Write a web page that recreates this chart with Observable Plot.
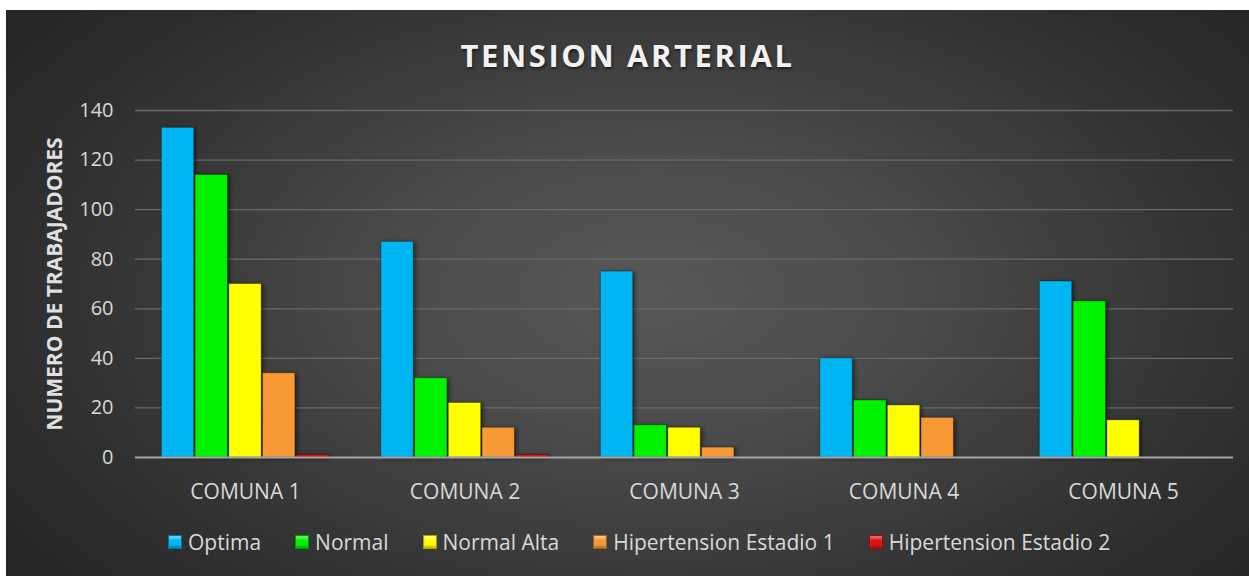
<!DOCTYPE html>
<html><head><meta charset="utf-8">
<script src="https://cdn.jsdelivr.net/npm/d3@7"></script>
<script src="https://cdn.jsdelivr.net/npm/@observablehq/plot@0.6"></script>
<style>
html,body{margin:0;padding:0;background:#fff;}
#chart{position:absolute;left:6px;top:10px;width:1243px;height:566px;overflow:hidden;
  background: radial-gradient(ellipse 62% 78% at 52% 50%, #585858 0%, #4a4a4a 35%, #353535 70%, #262626 100%);
  font-family:"Open Sans",sans-serif;}
#title{position:absolute;left:0;width:1243px;top:25px;text-align:center;color:#f2f2f2;font-weight:bold;font-size:31px;letter-spacing:2.6px;text-shadow:1px 2px 3px rgba(0,0,0,0.55);line-height:40px;}
#plot{position:absolute;left:0;top:0;}
#plot g[aria-label="y-axis label"] text{font-weight:bold;font-size:21px;fill:#e0e0e0;}
#plot g[aria-label="fx-axis tick label"]{font-size:21px;}
#plot g[aria-label="bar"]{filter:drop-shadow(2px 1px 2px rgba(0,0,0,0.55));}
#legend{position:absolute;left:162px;top:518px;display:flex;align-items:center;gap:34px;color:#d9d9d9;font-size:21px;line-height:28px;white-space:nowrap;}
.item{display:flex;align-items:center;gap:6px;}
.sw{width:12px;height:12px;border:1px solid rgba(0,0,0,0.35);box-shadow:inset 0 3px 2px rgba(255,255,255,0.35), inset 0 -2px 2px rgba(0,0,0,0.25);}
</style>
</head><body>
<div id="chart">
  <div id="title">TENSION ARTERIAL</div>
  <div id="plot"></div>
  <div id="legend"></div>
</div>
<script>
const comunas = ["COMUNA 1","COMUNA 2","COMUNA 3","COMUNA 4","COMUNA 5"];
const estados = ["Optima","Normal","Normal Alta","Hipertension Estadio 1","Hipertension Estadio 2"];
const optima = [133,87,75,40,71];
const normal = [114,32,13,23,63];
const normalAlta = [70,22,12,21,15];
const hipertension1 = [34,12,4,16,0];
const hipertension2 = [1,1,0,0,0];
const colores = ["#00B6F2","#00F200","#FFFF00","#F79A35","#E01010"];
const yTicks = [0,20,40,60,80,100,120,140];

const series = [optima, normal, normalAlta, hipertension1, hipertension2];
const rows = [];
comunas.forEach((c,i)=>estados.forEach((e,j)=>rows.push({comuna:c, estado:e, valor:series[j][i]})));

const plot = Plot.plot({
  width:1243, height:500,
  marginLeft:131, marginRight:18, marginTop:100, marginBottom:53,
  style:{background:"transparent", color:"#d9d9d9", fontFamily:"'Open Sans', sans-serif", fontSize:"20px", overflow:"visible"},
  fx:{domain:comunas, paddingInner:0.2256, paddingOuter:0.1048, round:false, axis:"bottom", label:null, tickSize:0, tickPadding:27},
  x:{domain:estados, axis:null, padding:0.04, round:false},
  y:{domain:[0,140], ticks:yTicks, tickSize:0, tickPadding:47, label:"NUMERO DE TRABAJADORES", labelAnchor:"center", labelOffset:113, labelArrow:"none"},
  color:{domain:estados, range:colores},
  marks:[
    Plot.ruleY(yTicks.filter(d=>d>0), {stroke:"#6a6a6a", strokeWidth:1.3, insetLeft:-25, insetRight:-25}),
    Plot.barY(rows, {fx:"comuna", x:"estado", y:"valor", fill:"estado", stroke:"rgba(0,0,0,0.3)", strokeWidth:1}),
    Plot.ruleY([0], {stroke:"#a6a6a6", strokeWidth:2, insetLeft:-25, insetRight:-25})
  ]
});
document.getElementById("plot").appendChild(plot);

const legend = document.getElementById("legend");
estados.forEach((e,j)=>{
  const it = document.createElement("div"); it.className="item";
  const sw = document.createElement("span"); sw.className="sw"; sw.style.background=colores[j];
  const tx = document.createElement("span"); tx.textContent=e;
  it.appendChild(sw); it.appendChild(tx); legend.appendChild(it);
});
</script>
</body></html>
